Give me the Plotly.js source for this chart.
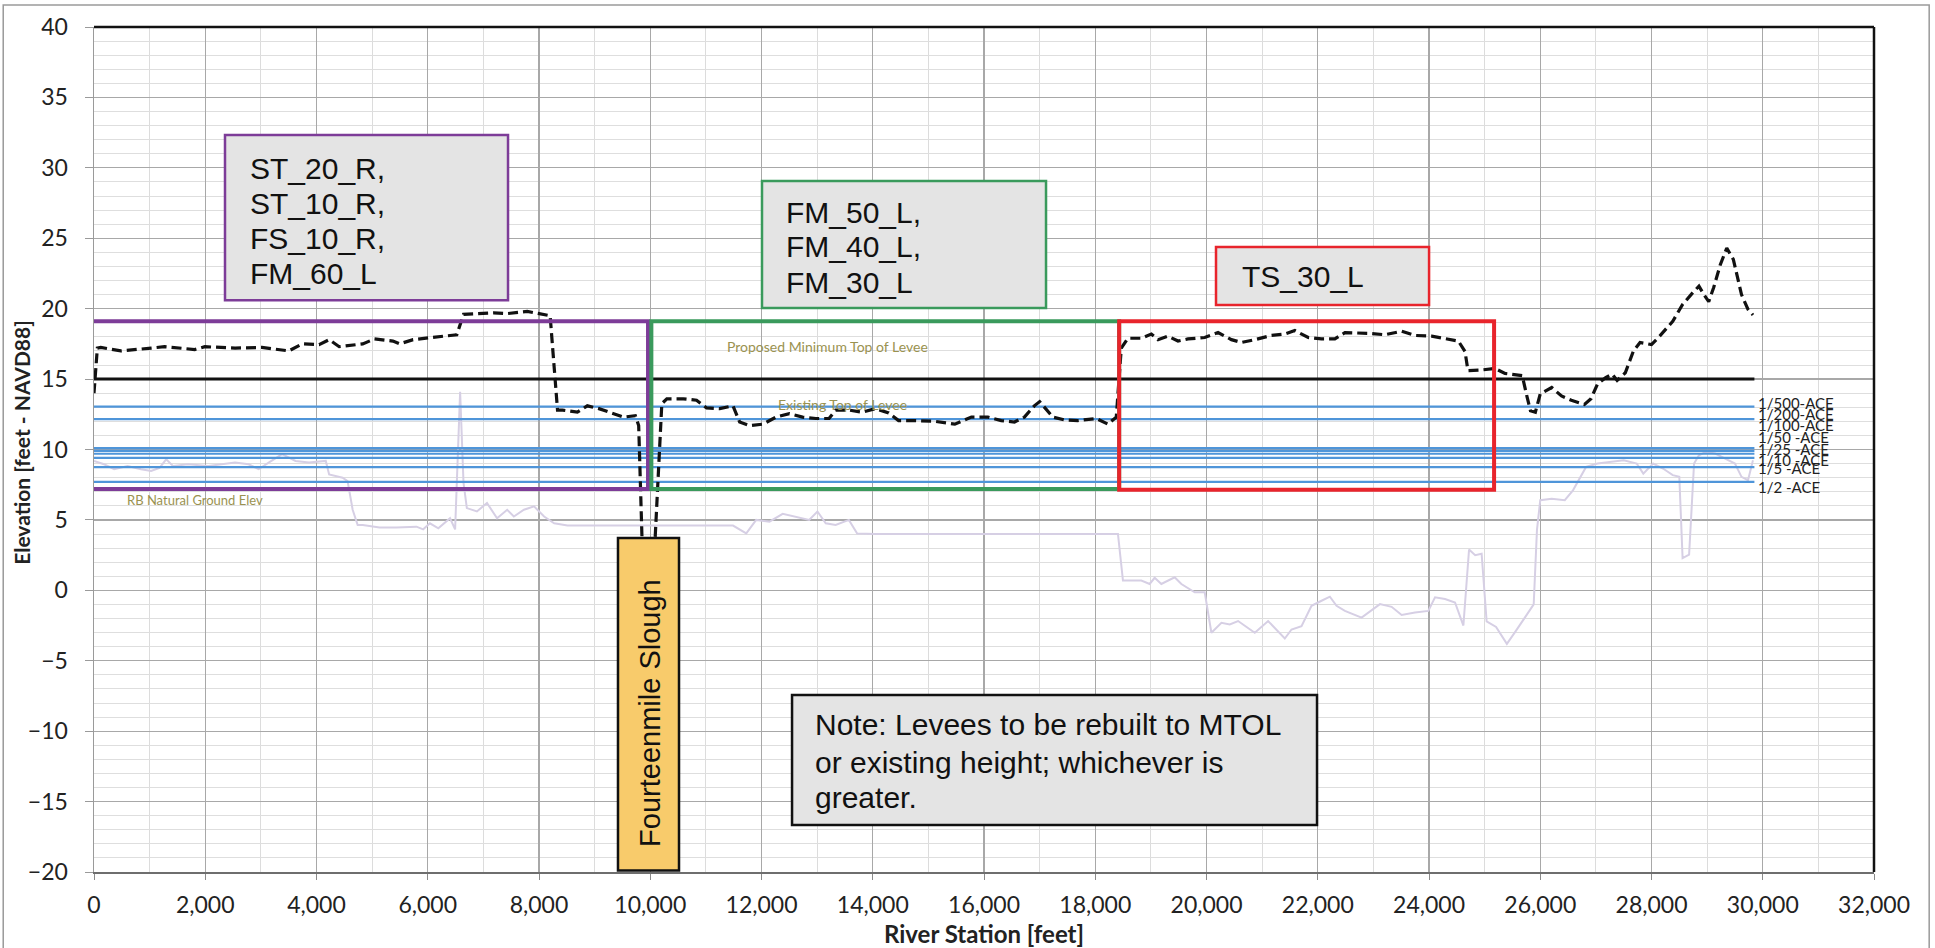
<!DOCTYPE html>
<html>
<head>
<meta charset="utf-8">
<script src="https://cdn.plot.ly/plotly-3.0.1.min.js"></script>
<style>
html,body{margin:0;padding:0;background:#fff;}
#chart{width:1935px;height:948px;}
</style>
</head>
<body>
<div id="chart"></div>
<script>
// Existing Top of Levee (dashed)
const levee_x = [0,60,121,483,1027,1268,1812,1993,2536,3019,3502,3744,4046,4227,4408,4831,5042,5374,5495,5737,6522,6643,7186,7428,7790,8092,8200,8333,8423,8690,8869,9077,9345,9524,9732,9792,9851,null,10089,10208,10298,10595,10833,11012,11250,11488,11607,11786,12024,12262,12500,12738,12976,13214,13333,13571,13810,14048,14286,14464,14762,15119,15476,15774,16071,16310,16548,16726,16905,17000,17238,17448,17688,18018,18228,18378,18468,18588,18828,19008,19128,19308,19488,19668,19968,20208,20448,20628,20868,21168,21408,21588,21828,22068,22308,22488,22908,23208,23508,23748,24048,24348,24528,24648,24700,24946,25186,25366,25606,25676,25765,25824,25912,26000,26206,26382,26559,26794,26912,27029,27176,27294,27382,27529,27676,27794,28000,28147,28382,28559,28735,28853,28941,29029,29118,29235,29353,29471,29618,29735,29824];
const levee_y = [14.0,17.2,17.25,17.0,17.2,17.3,17.1,17.3,17.2,17.25,17.0,17.5,17.45,17.8,17.3,17.5,17.85,17.7,17.5,17.8,18.15,19.6,19.7,19.65,19.8,19.6,19.5,12.8,12.8,12.65,13.1,12.9,12.55,12.3,12.4,11.7,3.8,null,3.8,13.25,13.6,13.6,13.5,12.95,12.9,13.1,11.95,11.7,11.8,12.3,12.55,12.3,12.2,12.2,12.8,12.8,12.65,12.9,12.6,12.05,12.05,12.0,11.8,12.3,12.3,12.05,11.95,12.3,13.1,13.4,12.3,12.1,12.05,12.2,11.8,12.3,17.2,17.9,17.9,18.2,17.8,18.05,17.7,17.85,17.95,18.3,17.8,17.6,17.8,18.1,18.2,18.45,17.95,17.85,17.85,18.3,18.25,18.15,18.4,18.1,18.05,17.8,17.7,16.95,15.6,15.65,15.75,15.4,15.3,15.25,13.7,12.75,12.65,13.95,14.4,13.8,13.5,13.2,13.6,14.65,15.1,15.35,14.9,15.45,17.0,17.6,17.45,18.05,19.1,20.3,21.1,21.6,21.0,20.5,21.5,23.1,24.3,23.5,21.0,19.95,19.55];

// RB Natural Ground Elev
const ground_x = [0,181,362,604,845,1027,1178,1298,1419,1691,2053,2536,2778,2959,3140,3382,3623,3865,4167,4227,4469,4559,4650,4740,4831,5133,5435,5797,5918,6039,6190,6401,6492,6582,6643,6703,6884,7065,7246,7428,7548,7729,7911,8092,8273,8512,11488,11726,11905,12143,12381,12619,12857,13006,13155,13333,13571,13720,14048,18408,18498,18828,18978,19068,19188,19428,19548,19788,19968,20088,20268,20418,20568,20868,21108,21408,21528,21708,21888,22068,22218,22338,22488,22788,23118,23328,23508,23748,23988,24108,24288,24468,24618,24720,24830,24946,25036,25206,25400,25559,25735,25882,25941,26000,26206,26441,26588,26706,26824,27029,27265,27500,27735,27853,28029,28206,28382,28500,28559,28676,28765,28853,28971,29147,29324,29500,29618,29735,29824];
const ground_y = [9.19,8.95,8.6,8.83,8.6,8.47,8.7,9.3,8.83,8.95,8.83,9.07,8.95,8.6,9.07,9.67,9.19,9.07,9.19,8.23,8.0,7.75,5.72,4.64,4.64,4.47,4.47,4.52,4.33,4.76,4.4,5.12,4.33,14.1,7.63,5.84,5.6,6.2,5.12,5.72,5.24,5.72,5.96,5.24,4.76,4.6,4.6,4.04,5.0,4.88,5.43,5.24,5.0,5.6,4.76,4.64,5.0,4.04,4.0,4.0,0.69,0.69,0.45,0.89,0.45,0.93,0.45,-0.14,-0.14,-3.01,-2.3,-2.42,-2.18,-3.01,-2.18,-3.42,-2.78,-2.54,-1.1,-0.74,-0.45,-1.1,-1.46,-1.94,-0.98,-1.17,-1.75,-1.58,-1.46,-0.5,-0.62,-0.86,-2.5,2.9,2.5,2.6,-2.2,-2.6,-3.8,-2.9,-1.9,-1.0,4.3,6.4,6.5,6.4,7.1,7.9,8.76,9.0,9.12,9.24,9.0,8.29,9.0,8.65,8.18,8.06,2.29,2.53,9.0,9.59,9.82,9.71,9.35,9.0,8.06,7.82,9.24];

// Proposed Minimum Top of Levee (MTOL)
const mtol_x = [0,29850];
const mtol_y = [15,15];

// Water surface levels (ACE)
const ace_names = ["1/500-ACE","1/200-ACE","1/100-ACE","1/50 -ACE","1/25 -ACE","1/10 -ACE","1/5 -ACE","1/2 -ACE"];
const ace_values = [13.05,12.15,10.1,9.9,9.7,9.4,8.75,7.7];
const ace_label_y = [13.32,12.5,11.74,10.87,10.01,9.25,8.66,7.31];
const ace_x = [0,29850];

const x_ticks = [0,2000,4000,6000,8000,10000,12000,14000,16000,18000,20000,22000,24000,26000,28000,30000,32000];
const y_ticks = [-20,-15,-10,-5,0,5,10,15,20,25,30,35,40];

const traces = [];
traces.push({x: ground_x, y: ground_y, mode:'lines', line:{color:'#d6cfe4', width:2}, hoverinfo:'skip'});
ace_values.forEach((v,i)=>{
  traces.push({x: ace_x, y: [v,v], mode:'lines', name: ace_names[i], line:{color:'#4f95d9', width:2.2}});
});
traces.push({x: mtol_x, y: mtol_y, mode:'lines', line:{color:'#111', width:3}});
traces.push({x: levee_x, y: levee_y, mode:'lines', connectgaps:false, line:{color:'#111', width:3.2, dash:'10px,5px'}});

const BOXFONT = 'Liberation Sans, Arial, sans-serif';
const annotations = [];
function txt(text,x,y,opts){
  annotations.push(Object.assign({x:x,y:y,xref:'x',yref:'y',text:text,showarrow:false,xanchor:'left',yanchor:'middle',
    font:{family:BOXFONT,size:30,color:'#111'}},opts||{}));
}
["ST_20_R,","ST_10_R,","FS_10_R,","FM_60_L"].forEach((t,i)=>txt(t,2769,[29.95,27.5,25.0,22.53][i]));
["FM_50_L,","FM_40_L,","FM_30_L"].forEach((t,i)=>txt(t,12405,[26.86,24.38,21.85][i]));
txt("TS_30_L",20603,22.25);
["Note: Levees to be rebuilt to MTOL","or existing height; whichever is","greater."].forEach((t,i)=>txt(t,12926,[-9.56,-12.19,-14.68][i]));
annotations.push({x:9996,y:-8.7,xref:'x',yref:'y',text:'Fourteenmile Slough',textangle:-90,showarrow:false,
  font:{family:BOXFONT,size:29,color:'#111'}});
ace_names.forEach((n,i)=>{
  annotations.push({x:29880,y:ace_label_y[i],xref:'x',yref:'y',text:n,showarrow:false,xanchor:'left',yanchor:'middle',
    font:{family:'Lato, sans-serif',size:15,color:'#222'}});
});
annotations.push({x:1824,y:6.45,xref:'x',yref:'y',text:'RB Natural Ground Elev',showarrow:false,
  font:{family:'Lato, sans-serif',size:13,color:'#9a9250'}});
annotations.push({x:13185,y:17.32,xref:'x',yref:'y',text:'Proposed Minimum Top of Levee',showarrow:false,
  font:{family:'Lato, sans-serif',size:14,color:'#9a9250'}});
annotations.push({x:13452,y:13.2,xref:'x',yref:'y',text:'Existing Top of Levee',showarrow:false,
  font:{family:'Lato, sans-serif',size:14,color:'#9a9250'}});
// y axis title placed as an annotation for exact position
annotations.push({xref:'paper',yref:'paper',x:-0.0404,y:0.508,text:'<b>Elevation [feet - NAVD88]</b>',textangle:-90,
  showarrow:false,xanchor:'center',yanchor:'middle',font:{family:'Lato, sans-serif',size:21,color:'#222'}});

const shapes = [
  // outer frame
  {type:'rect',xref:'paper',yref:'paper',x0:-0.051,x1:1.031,y0:-0.2,y1:1.026,line:{color:'#9a9a9a',width:1.5},layer:'below'},
  // plot border top/right
  {type:'line',xref:'paper',yref:'paper',x0:0,x1:1,y0:1,y1:1,line:{color:'#111',width:2.5},layer:'above'},
  {type:'line',xref:'paper',yref:'paper',x0:1,x1:1,y0:0,y1:1,line:{color:'#111',width:2.5},layer:'above'},
  // region rectangles
  {type:'rect',xref:'x',yref:'y',x0:-110,x1:9960,y0:7.19,y1:19.1,line:{color:'#7d3c98',width:4},layer:'above'},
  {type:'rect',xref:'x',yref:'y',x0:10020,x1:18430,y0:7.19,y1:19.1,line:{color:'#3a9a5c',width:4},layer:'above'},
  {type:'rect',xref:'x',yref:'y',x0:18430,x1:25170,y0:7.15,y1:19.1,line:{color:'#e8242c',width:4},layer:'above'},
  // text boxes
  {type:'rect',xref:'x',yref:'y',x0:2355,x1:7443,y0:20.6,y1:32.33,fillcolor:'#e4e4e4',line:{color:'#7d3c98',width:2.5},layer:'above'},
  {type:'rect',xref:'x',yref:'y',x0:12009,x1:17115,y0:20.05,y1:29.06,fillcolor:'#e4e4e4',line:{color:'#3a9a5c',width:2.5},layer:'above'},
  {type:'rect',xref:'x',yref:'y',x0:20171,x1:24001,y0:20.26,y1:24.38,fillcolor:'#e4e4e4',line:{color:'#e8242c',width:2.5},layer:'above'},
  {type:'rect',xref:'x',yref:'y',x0:12549,x1:21987,y0:-16.66,y1:-7.43,fillcolor:'#e4e4e4',line:{color:'#111',width:2.5},layer:'above'},
  {type:'rect',xref:'x',yref:'y',x0:9420,x1:10517,y0:-19.9,y1:3.72,fillcolor:'#f8cb6b',line:{color:'#111',width:2.5},layer:'above'}
];

const layout = {
  width:1935, height:948,
  margin:{l:94,r:61,t:27,b:76},
  paper_bgcolor:'#ffffff', plot_bgcolor:'#ffffff',
  showlegend:false,
  font:{family:'Lato, sans-serif',color:'#222'},
  xaxis:{
    range:[0,32000], tickvals:x_ticks, tickformat:',d',
    showgrid:true, gridcolor:'#a8a8a8', gridwidth:1.2,
    minor:{dtick:1000, showgrid:true, gridcolor:'#dcdcdc', gridwidth:1},
    zeroline:false, showline:true, linecolor:'#6e6e6e', linewidth:2,
    ticks:'outside', ticklen:6, tickcolor:'#8a8a8a',
    ticklabelstandoff:5,
    tickfont:{family:'Lato, sans-serif',size:23,color:'#222'},
    title:{text:'<b>River Station [feet]</b>', font:{family:'Lato, sans-serif',size:24,color:'#222'}, standoff:11}
  },
  yaxis:{
    range:[-20,40], tickvals:y_ticks,
    showgrid:true, gridcolor:'#a8a8a8', gridwidth:1.2,
    minor:{dtick:1, showgrid:true, gridcolor:'#dedede', gridwidth:1},
    zeroline:false, showline:true, linecolor:'#9a9a9a', linewidth:1.5,
    ticks:'outside', ticklen:8, tickcolor:'#9a9a9a',
    ticklabelstandoff:12,
    tickfont:{family:'Lato, sans-serif',size:23,color:'#222'}
  },
  shapes:shapes,
  annotations:annotations
};

Plotly.newPlot('chart', traces, layout, {displayModeBar:false, staticPlot:true});
</script>
</body>
</html>
